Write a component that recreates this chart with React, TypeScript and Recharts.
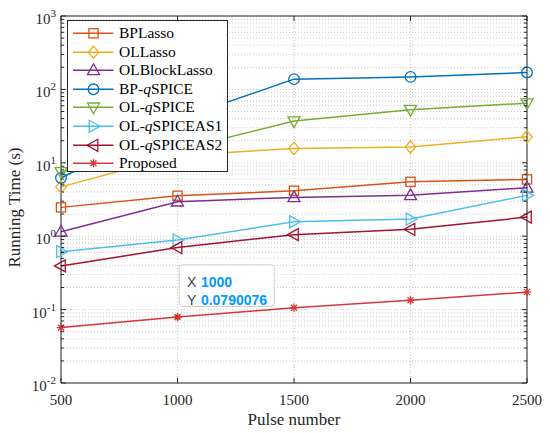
import React from 'react';
import {
  LineChart,
  Line,
  XAxis,
  YAxis,
  CartesianGrid,
  Legend,
  ReferenceDot,
} from 'recharts';

// ---------- data ----------
const pulses = [500, 1000, 1500, 2000, 2500];
const bpLasso = [2.47, 3.56, 4.16, 5.5, 5.94];
const olLasso = [4.7, 12.6, 15.7, 16.4, 22.6];
const olBlockLasso = [1.15, 2.95, 3.38, 3.6, 4.57];
const bpQSpice = [6.2, 39, 138, 148, 170];
const olQSpice = [7.5, 15, 37, 53, 65];
const olQSpiceAS1 = [0.615, 0.887, 1.57, 1.71, 3.6];
const olQSpiceAS2 = [0.394, 0.7, 1.05, 1.24, 1.82];
const proposed = [0.0569, 0.0790076, 0.106, 0.134, 0.173];

const xTicks = [500, 1000, 1500, 2000, 2500];
const decadeExp: Record<string, string> = {
  '0.01': '-2',
  '0.1': '-1',
  '1': '0',
  '10': '1',
  '100': '2',
  '1000': '3',
};
const yTicks: number[] = [];
[0.01, 0.1, 1, 10, 100].forEach((d) => {
  for (let m = 1; m <= 9; m++) yTicks.push(+(d * m).toPrecision(3));
});
yTicks.push(1000);

const tipX = 1000;
const tipY = 0.0790076;

type Shape = 'square' | 'diamond' | 'up' | 'circle' | 'down' | 'right' | 'left' | 'star';

const seriesNames = [
  'BPLasso',
  'OLLasso',
  'OLBlockLasso',
  'BP-qSPICE',
  'OL-qSPICE',
  'OL-qSPICEAS1',
  'OL-qSPICEAS2',
  'Proposed',
];
const seriesValues = [bpLasso, olLasso, olBlockLasso, bpQSpice, olQSpice, olQSpiceAS1, olQSpiceAS2, proposed];
const seriesColors = ['#D95319', '#EDB120', '#7E2F8E', '#0072BD', '#77AC30', '#4DBEEE', '#A2142F', '#D9363A'];
const seriesShapes: Shape[] = ['square', 'diamond', 'up', 'circle', 'down', 'right', 'left', 'star'];

const data = pulses.map((p, i) => {
  const row: Record<string, number> = { pulse: p };
  seriesNames.forEach((n, k) => {
    row[n] = seriesValues[k][i];
  });
  return row;
});

const SERIF = '"Liberation Serif", "Times New Roman", serif';
const SANS = '"Liberation Sans", Arial, Helvetica, sans-serif';
const AXIS = '#262626';

function Marker({ shape, cx, cy, color }: { shape: Shape; cx: number; cy: number; color: string }) {
  const common = { fill: 'none', stroke: color, strokeWidth: 1.3 };
  switch (shape) {
    case 'square':
      return <rect x={cx - 4.6} y={cy - 4.6} width={9.2} height={9.2} {...common} />;
    case 'diamond':
      return <polygon points={`${cx},${cy - 6.2} ${cx + 5.2},${cy} ${cx},${cy + 6.2} ${cx - 5.2},${cy}`} {...common} />;
    case 'circle':
      return <circle cx={cx} cy={cy} r={5.3} {...common} />;
    case 'up':
      return <polygon points={`${cx},${cy - 6.5} ${cx + 6},${cy + 4.3} ${cx - 6},${cy + 4.3}`} {...common} />;
    case 'down':
      return <polygon points={`${cx},${cy + 6.5} ${cx + 6},${cy - 4.3} ${cx - 6},${cy - 4.3}`} {...common} />;
    case 'right':
      return <polygon points={`${cx + 6.5},${cy} ${cx - 4.3},${cy - 6} ${cx - 4.3},${cy + 6}`} {...common} />;
    case 'left':
      return <polygon points={`${cx - 6.5},${cy} ${cx + 4.3},${cy - 6} ${cx + 4.3},${cy + 6}`} {...common} />;
    case 'star': {
      const r = 4.2;
      const d = r * 0.707;
      return (
        <g stroke={color} strokeWidth={1.3}>
          <line x1={cx - r} y1={cy} x2={cx + r} y2={cy} />
          <line x1={cx} y1={cy - r} x2={cx} y2={cy + r} />
          <line x1={cx - d} y1={cy - d} x2={cx + d} y2={cy + d} />
          <line x1={cx - d} y1={cy + d} x2={cx + d} y2={cy - d} />
        </g>
      );
    }
  }
  return null;
}

function SeriesName({ name }: { name: string }) {
  const idx = name.indexOf('q');
  if (idx < 0) return <>{name}</>;
  return (
    <>
      {name.slice(0, idx)}
      <i>q</i>
      {name.slice(idx + 1)}
    </>
  );
}

function LegendBox() {
  return (
    <div
      style={{
        width: 161,
        height: 152,
        boxSizing: 'border-box',
        border: `1px solid ${AXIS}`,
        background: '#ffffff',
        paddingTop: 3,
        fontFamily: SERIF,
        fontSize: 15.5,
        color: '#000',
      }}
    >
      {seriesNames.map((n, k) => (
        <div key={n} style={{ display: 'flex', alignItems: 'center', height: 18.6, lineHeight: '18.6px' }}>
          <svg width={51} height={18.6} style={{ flex: 'none' }}>
            <line x1={5} y1={9.3} x2={45.5} y2={9.3} stroke={seriesColors[k]} strokeWidth={1.5} />
            <Marker shape={seriesShapes[k]} cx={25.5} cy={9.3} color={seriesColors[k]} />
          </svg>
          <span style={{ whiteSpace: 'nowrap' }}>
            <SeriesName name={n} />
          </span>
        </div>
      ))}
    </div>
  );
}

function LeftTick(props: any) {
  const { x, y, payload } = props;
  const key = String(+Number(payload.value).toPrecision(3));
  const exp = decadeExp[key];
  const isMajor = exp !== undefined;
  return (
    <g>
      <line x1={x} y1={y} x2={x + (isMajor ? 5 : 3)} y2={y} stroke={AXIS} strokeWidth={1} />
      {isMajor && (
        <text x={x - 5} y={y + 8} textAnchor="end" fontFamily={SERIF} fill="#262626">
          <tspan fontSize={15}>10</tspan>
          <tspan fontSize={11} dy={-7}>{exp}</tspan>
        </text>
      )}
    </g>
  );
}

function RightTick(props: any) {
  const { x, y, payload } = props;
  const key = String(+Number(payload.value).toPrecision(3));
  const isMajor = decadeExp[key] !== undefined;
  return <line x1={x} y1={y} x2={x - (isMajor ? 5 : 3)} y2={y} stroke={AXIS} strokeWidth={1} />;
}

function BottomTick(props: any) {
  const { x, y, payload } = props;
  return (
    <g>
      <line x1={x} y1={y} x2={x} y2={y - 5} stroke={AXIS} strokeWidth={1} />
      <text x={x} y={y + 22} textAnchor="middle" fontFamily={SERIF} fontSize={15} fill="#262626">
        {payload.value}
      </text>
    </g>
  );
}

function TopTick(props: any) {
  const { x, y } = props;
  return <line x1={x} y1={y} x2={x} y2={y + 5} stroke={AXIS} strokeWidth={1} />;
}

function DataTip(props: any) {
  const { cx, cy } = props;
  if (cx == null || cy == null) return null;
  return (
    <g>
      <rect x={cx + 1.7} y={cy - 52.3} width={95} height={41.7} rx={3} fill="#ffffff" fillOpacity={0.95} stroke="#cfcfcf" strokeWidth={1} />
      <text fontFamily={SANS} fontSize={14}>
        <tspan x={cx + 9.4} y={cy - 30} fill="#404040">X</tspan>
        <tspan x={cx + 23.4} y={cy - 30} fill="#0099FF" fontWeight="bold">{tipX}</tspan>
        <tspan x={cx + 9.4} y={cy - 12.5} fill="#404040">Y</tspan>
        <tspan x={cx + 23.4} y={cy - 12.5} fill="#0099FF" fontWeight="bold">{tipY}</tspan>
      </text>
      <circle cx={cx} cy={cy} r={3} fill="#1a1a1a" stroke="#f0d080" strokeWidth={1} />
    </g>
  );
}

export default function App() {
  return (
    <div style={{ position: 'absolute', left: 0, top: 0, width: 550, height: 433, background: '#fff' }}>
      <LineChart width={550} height={433} data={data} margin={{ top: 0, right: 0, bottom: 0, left: 0 }}>
        <CartesianGrid stroke="#bdbdbd" strokeDasharray="1 2" strokeWidth={0.8} />
        <XAxis
          dataKey="pulse"
          type="number"
          domain={[500, 2500]}
          ticks={xTicks}
          interval={0}
          height={50}
          tickSize={0}
          tickMargin={0}
          tickLine={false}
          tick={<BottomTick />}
          axisLine={{ stroke: AXIS, strokeWidth: 1 }}
          label={{
            content: (p: any) => {
              const vb = p.viewBox || {};
              return (
                <text x={vb.x + vb.width / 2} y={vb.y + 42} textAnchor="middle" fontFamily={SERIF} fontSize={17} fill="#262626">
                  Pulse number
                </text>
              );
            },
          }}
        />
        <XAxis
          xAxisId="top"
          orientation="top"
          dataKey="pulse"
          type="number"
          domain={[500, 2500]}
          ticks={xTicks}
          interval={0}
          height={16}
          tickSize={0}
          tickMargin={0}
          tickLine={false}
          tick={<TopTick />}
          axisLine={{ stroke: AXIS, strokeWidth: 1 }}
        />
        <YAxis
          type="number"
          scale="log"
          domain={[0.01, 1000]}
          allowDataOverflow
          ticks={yTicks}
          interval={0}
          width={61}
          tickSize={0}
          tickMargin={0}
          tickLine={false}
          tick={<LeftTick />}
          axisLine={{ stroke: AXIS, strokeWidth: 1 }}
          label={{
            content: (p: any) => {
              const vb = p.viewBox || {};
              const cy = vb.y + vb.height / 2 + 8;
              return (
                <text
                  x={16}
                  y={cy}
                  transform={`rotate(-90, 16, ${cy})`}
                  textAnchor="middle"
                  dominantBaseline="middle"
                  fontFamily={SERIF}
                  fontSize={17}
                  fill="#262626"
                >
                  Running Time (s)
                </text>
              );
            },
          }}
        />
        <YAxis
          yAxisId="right"
          orientation="right"
          type="number"
          scale="log"
          domain={[0.01, 1000]}
          allowDataOverflow
          ticks={yTicks}
          interval={0}
          width={23}
          tickSize={0}
          tickMargin={0}
          tickLine={false}
          tick={<RightTick />}
          axisLine={{ stroke: AXIS, strokeWidth: 1 }}
        />
        {seriesNames.map((n, k) => (
          <Line
            key={n}
            dataKey={n}
            name={n}
            type="linear"
            stroke={seriesColors[k]}
            strokeWidth={1.5}
            isAnimationActive={false}
            dot={(p: any) => (
              <Marker key={`${n}-${p.index}`} shape={seriesShapes[k]} cx={p.cx} cy={p.cy} color={seriesColors[k]} />
            )}
            activeDot={false}
          />
        ))}
        <ReferenceDot x={tipX} y={tipY} r={3} shape={<DataTip />} ifOverflow="visible" />
        <Legend
          layout="vertical"
          align="center"
          verticalAlign="middle"
          content={() => <LegendBox />}
          wrapperStyle={{ left: 67, top: 20, width: 161, height: 152 }}
        />
      </LineChart>
    </div>
  );
}
